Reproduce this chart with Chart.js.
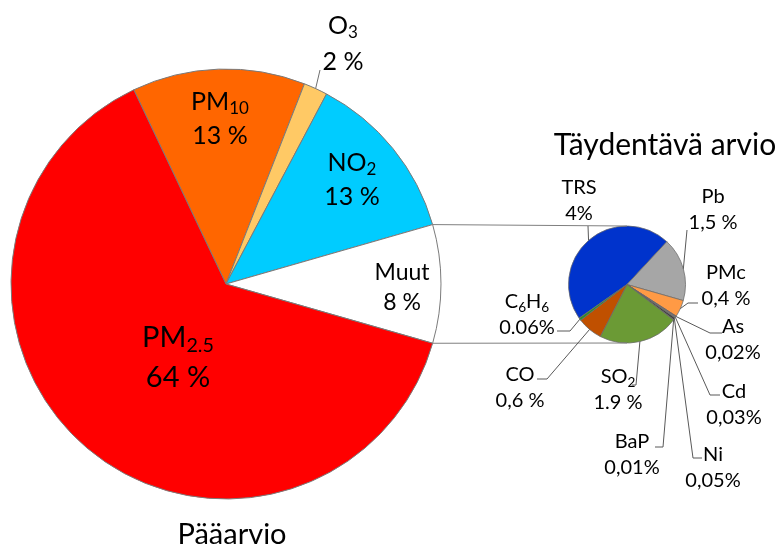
<!DOCTYPE html>
<html>
<head>
<meta charset="utf-8">
<script src="https://cdn.jsdelivr.net/npm/chart.js@4.4.1/dist/chart.umd.min.js"></script>
<style>
    html, body { margin: 0; padding: 0; background: #fff; }
    #wrap { position: relative; width: 784px; height: 546px; }
    #wrap canvas { position: absolute; left: 0; top: 0; }
</style>
</head>
<body>
<div id="wrap">
    <canvas id="paaChart" width="784" height="546"></canvas>
    <canvas id="taydChart" width="784" height="546"></canvas>
</div>
<script>
// ========== DATOS ==========

// Pääarvio (iso piirakka)
const paaNimet = ['PM_{10}', 'O_{3}', 'NO_{2}', 'Muut', 'PM_{2.5}'];
const paaArvot = [13, 1.8, 12.8, 8.9, 63.5];
const paaTekstit = ['13 %', '2 %', '13 %', '8 %', '64 %'];
const paaVarit = ['#FF6600', '#FFC965', '#00CCFF', '#FFFFFF', '#FF0000'];

// Täydentävä arvio (pieni piirakka)
const taydNimet = ['TRS', 'Pb', 'PMc', 'As', 'Cd', 'Ni', 'BaP', 'SO_{2}', 'CO', 'C_{6}H_{6}'];
const taydArvot = [4, 1.5, 0.4, 0.02, 0.03, 0.05, 0.01, 1.9, 0.6, 0.06];
const taydTekstit = ['4%', '1,5 %', '0,4 %', '0,02%', '0,03%', '0,05%', '0,01%', '1.9 %', '0,6 %', '0.06%'];
const taydVarit = ['#0033CC', '#A6A6A6', '#FF9A45', '#943634', '#7F7F7F', '#404040', '#C0504D', '#6B9A35', '#C05000', '#2E8B2E'];

// ========== ASETTELU ==========
const FONT = 'Lato, "Open Sans", sans-serif';

// label position (first line centre), font size, line gap
const paaLabelPos = [[220, 102], [343, 26], [352, 163], [402, 273], [178, 338]];
const paaLabelSize = [25, 25, 25, 23, 29];
const paaLabelGap = [34, 36, 34, 30, 40];
// leader lines (start points, the end is on the slice)
const paaLeaders = [null, [[320, 70]], null, null, null];

const taydLabelPos = [[579, 188], [713, 197], [726, 273], [733, 327], [734, 392],
                      [713, 455], [632, 442], [618, 377], [520, 375], [527, 302]];
const taydLeaders = [
    [[588, 226]],
    [[687, 230]],
    [[698, 303], [688, 303]],
    [[722, 333], [710, 333]],
    [[720, 395], [710, 395]],
    [[702, 458], [693, 458]],
    [[655, 447], [663, 447]],
    [[632, 385], [636, 385]],
    [[537, 379], [547, 379]],
    [[557, 331], [570, 331]]
];

// Función para dibujar texto con subíndices
function dibujarTexto(ctx, str, cx, cy, size) {
    const parts = str.split(/(_\{[^}]*\})/).filter(Boolean).map(p =>
        p.startsWith('_{') ? { t: p.slice(2, -1), sub: true } : { t: p, sub: false });
    let total = 0;
    parts.forEach(p => {
        ctx.font = `${p.sub ? size * 0.68 : size}px ${FONT}`;
        p.w = ctx.measureText(p.t).width;
        total += p.w;
    });
    let x = cx - total / 2;
    ctx.textAlign = 'left';
    ctx.textBaseline = 'middle';
    parts.forEach(p => {
        ctx.font = `${p.sub ? size * 0.68 : size}px ${FONT}`;
        ctx.fillText(p.t, x, cy + (p.sub ? size * 0.28 : 0));
        x += p.w;
    });
}

function puolivali(arc) {
    const a = (arc.startAngle + arc.endAngle) / 2;
    return [arc.x + arc.outerRadius * Math.cos(a), arc.y + arc.outerRadius * Math.sin(a)];
}

function dibujarLeader(ctx, pts, arc) {
    const end = puolivali(arc);
    ctx.beginPath();
    ctx.moveTo(pts[0][0], pts[0][1]);
    pts.slice(1).forEach(p => ctx.lineTo(p[0], p[1]));
    ctx.lineTo(end[0], end[1]);
    ctx.stroke();
}

const paaLabels = {
    id: 'paaLabels',
    afterDraw(chart) {
        const ctx = chart.ctx;
        const arcs = chart.getDatasetMeta(0).data;
        ctx.save();
        ctx.strokeStyle = '#6f6f6f';
        ctx.lineWidth = 1;
        ctx.fillStyle = '#000';
        arcs.forEach((arc, i) => {
            const [x, y] = paaLabelPos[i];
            dibujarTexto(ctx, paaNimet[i], x, y, paaLabelSize[i]);
            dibujarTexto(ctx, paaTekstit[i], x, y + paaLabelGap[i], paaLabelSize[i]);
            if (paaLeaders[i]) dibujarLeader(ctx, paaLeaders[i], arc);
        });
        dibujarTexto(ctx, 'Pääarvio', 232, 535, 29);
        ctx.restore();
    }
};

const taydLabels = {
    id: 'taydLabels',
    afterDraw(chart) {
        const ctx = chart.ctx;
        const arcs = chart.getDatasetMeta(0).data;
        const paa = Chart.getChart('paaChart');
        ctx.save();
        // yhdysviivat Muut-sektorista pieneen piirakkaan
        const muut = paa.getDatasetMeta(0).data[3];
        const p = arcs[0];
        ctx.strokeStyle = '#7f7f7f';
        ctx.lineWidth = 1;
        ctx.beginPath();
        ctx.moveTo(muut.x + muut.outerRadius * Math.cos(muut.startAngle), muut.y + muut.outerRadius * Math.sin(muut.startAngle));
        ctx.lineTo(p.x, p.y - p.outerRadius);
        ctx.moveTo(muut.x + muut.outerRadius * Math.cos(muut.endAngle), muut.y + muut.outerRadius * Math.sin(muut.endAngle));
        ctx.lineTo(p.x, p.y + p.outerRadius);
        ctx.stroke();

        ctx.strokeStyle = '#595959';
        ctx.fillStyle = '#000';
        arcs.forEach((arc, i) => {
            const [x, y] = taydLabelPos[i];
            dibujarTexto(ctx, taydNimet[i], x, y, 20);
            dibujarTexto(ctx, taydTekstit[i], x, y + 26, 20);
            dibujarLeader(ctx, taydLeaders[i], arc);
        });
        dibujarTexto(ctx, 'Täydentävä arvio', 665, 145, 30);
        ctx.restore();
    }
};

const yhteiset = {
    responsive: false,
    animation: false,
    events: [],
    plugins: { legend: { display: false }, tooltip: { enabled: false } }
};

new Chart(document.getElementById('paaChart').getContext('2d'), {
    type: 'pie',
    data: {
        labels: paaNimet,
        datasets: [{
            data: paaArvot,
            backgroundColor: paaVarit,
            borderColor: '#7a7a7a',
            borderWidth: 1
        }]
    },
    options: {
        ...yhteiset,
        rotation: -25.4,
        radius: 215,
        layout: { padding: { left: 0, right: 332, top: 22, bottom: 0 } }
    },
    plugins: [paaLabels]
});

new Chart(document.getElementById('taydChart').getContext('2d'), {
    type: 'pie',
    data: {
        labels: taydNimet,
        datasets: [{
            data: taydArvot,
            backgroundColor: taydVarit,
            borderColor: '#6a6a6a',
            borderWidth: 0.75
        }]
    },
    options: {
        ...yhteiset,
        rotation: -125.1,
        radius: 58.5,
        layout: { padding: { left: 567, right: 97, top: 224, bottom: 201 } }
    },
    plugins: [taydLabels]
});
</script>
</body>
</html>
